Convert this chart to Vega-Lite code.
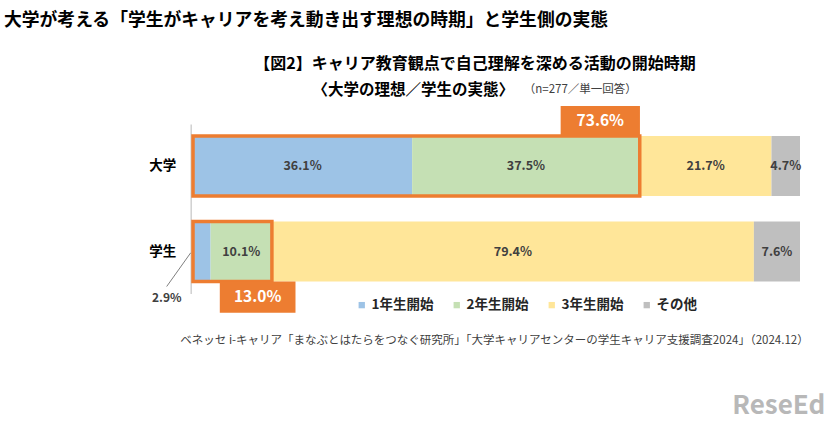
{
  "$schema": "https://vega.github.io/schema/vega-lite/v6.json",
  "width": 607,
  "height": 169.5,
  "autosize": {"type": "none"},
  "padding": {"left": 193, "top": 124, "right": 26, "bottom": 131.5},
  "background": "#ffffff",
  "config": {"font": "Noto Sans CJK JP", "view": {"stroke": null}},
  "title": {
    "text": "大学が考える「学生がキャリアを考え動き出す理想の時期」と学生側の実態",
    "anchor": "start",
    "frame": "group",
    "dx": -189,
    "offset": 26,
    "fontSize": 17.8,
    "fontWeight": "bold",
    "color": "#000000"
  },
  "datasets": {
    "main": [
      {"group": "大学", "cat": "1年生開始", "value": 36.1},
      {"group": "大学", "cat": "2年生開始", "value": 37.5},
      {"group": "大学", "cat": "3年生開始", "value": 21.7},
      {"group": "大学", "cat": "その他", "value": 4.7},
      {"group": "学生", "cat": "1年生開始", "value": 2.9},
      {"group": "学生", "cat": "2年生開始", "value": 10.1},
      {"group": "学生", "cat": "3年生開始", "value": 79.4},
      {"group": "学生", "cat": "その他", "value": 7.6}
    ],
    "hl": [
      {"group": "大学", "total": 73.6},
      {"group": "学生", "total": 13.0}
    ],
    "notes": [
      {"group": "大学", "key": "t1", "t": "【図2】キャリア教育観点で自己理解を深める活動の開始時期"},
      {"group": "大学", "key": "t2", "t": "〈大学の理想／学生の実態〉"},
      {"group": "大学", "key": "t3", "t": "（n=277／単一回答）"},
      {"group": "学生", "key": "src", "t": "ベネッセ i-キャリア「まなぶとはたらをつなぐ研究所」「大学キャリアセンターの学生キャリア支援調査2024」（2024.12）"},
      {"group": "学生", "key": "logo", "t": "ReseEd"},
      {"group": "学生", "key": "small", "t": "2.9%"}
    ]
  },
  "layer": [
    {
      "data": {"name": "main"},
      "mark": {"type": "bar"},
      "encoding": {
        "y": {
          "field": "group", "type": "nominal", "sort": ["大学", "学生"],
          "scale": {"domain": ["大学", "学生"], "paddingInner": 0.298, "paddingOuter": 0.14},
          "axis": {"title": null, "ticks": false, "tickSize": 0, "labelPadding": 15, "offset": 2.3, "domainColor": "#d0d0d0", "domainWidth": 1.5, "labelFontSize": 13.5, "labelFontWeight": "bold", "labelColor": "#000000", "grid": false}
        },
        "x": {"field": "value", "type": "quantitative", "stack": "zero", "scale": {"domain": [0, 100], "nice": false}, "axis": null},
        "color": {
          "field": "cat", "type": "nominal",
          "scale": {"domain": ["1年生開始", "2年生開始", "3年生開始", "その他"], "range": ["#9DC3E6", "#C5E0B4", "#FFE699", "#BFBFBF"]},
          "legend": {"orient": "none", "legendX": 162, "legendY": 174, "direction": "horizontal", "title": null, "symbolType": "square", "symbolSize": 40, "symbolStrokeWidth": 0, "labelFontSize": 13.5, "labelFontWeight": "bold", "labelColor": "#262626", "columnPadding": 16, "labelOffset": 3}
        },
        "order": {"field": "cat", "type": "ordinal", "sort": "ascending"}
      }
    },
    {
      "data": {"name": "main"},
      "transform": [
        {"stack": "value", "groupby": ["group"], "sort": [{"field": "cat", "order": "ascending"}], "as": ["v0", "v1"]},
        {"filter": "datum.value > 3.5"},
        {"calculate": "(datum.v0 + datum.v1) / 2", "as": "mid"},
        {"calculate": "format(datum.value, '.1f') + '%'", "as": "lbl"}
      ],
      "mark": {"type": "text", "fontSize": 12.5, "fontWeight": "bold", "color": "#404040"},
      "encoding": {
        "x": {"field": "mid", "type": "quantitative"},
        "y": {"field": "group", "type": "nominal"},
        "text": {"field": "lbl", "type": "nominal"}
      }
    },
    {
      "data": {"name": "hl"},
      "transform": [{"calculate": "0", "as": "zero"}],
      "mark": {"type": "bar", "fill": "transparent", "stroke": "#ED7D31", "strokeWidth": 3.5},
      "encoding": {
        "x": {"field": "zero", "type": "quantitative"},
        "x2": {"field": "total"},
        "y": {"field": "group", "type": "nominal"}
      }
    },
    {
      "data": {"name": "hl"},
      "transform": [
        {"filter": "datum.group === '大学'"},
        {"calculate": "datum.total - 6.5", "as": "bx"},
        {"calculate": "format(datum.total, '.1f') + '%'", "as": "lbl"}
      ],
      "layer": [
        {
          "mark": {"type": "point", "shape": "M-1,-0.378H1V0.378H-1Z", "size": 6288, "filled": true, "opacity": 1, "color": "#ED7D31", "strokeWidth": 0, "yOffset": -45},
          "encoding": {
            "x": {"field": "bx", "type": "quantitative"},
            "y": {"field": "group", "type": "nominal"}
          }
        },
        {
          "mark": {"type": "text", "fontSize": 15.5, "fontWeight": "bold", "color": "#ffffff", "dy": -45},
          "encoding": {
            "x": {"field": "bx", "type": "quantitative"},
            "y": {"field": "group", "type": "nominal"},
            "text": {"field": "lbl", "type": "nominal"}
          }
        }
      ]
    },
    {
      "data": {"name": "hl"},
      "transform": [
        {"filter": "datum.group === '学生'"},
        {"calculate": "datum.total - 2.35", "as": "bx"},
        {"calculate": "format(datum.total, '.1f') + '%'", "as": "lbl"}
      ],
      "layer": [
        {
          "mark": {"type": "point", "shape": "M-1,-0.413H1V0.413H-1Z", "size": 5730, "filled": true, "opacity": 1, "color": "#ED7D31", "strokeWidth": 0, "yOffset": 45.7},
          "encoding": {
            "x": {"field": "bx", "type": "quantitative"},
            "y": {"field": "group", "type": "nominal"}
          }
        },
        {
          "mark": {"type": "text", "fontSize": 15.5, "fontWeight": "bold", "color": "#ffffff", "dy": 45.7},
          "encoding": {
            "x": {"field": "bx", "type": "quantitative"},
            "y": {"field": "group", "type": "nominal"},
            "text": {"field": "lbl", "type": "nominal"}
          }
        }
      ]
    },
    {
      "data": {"name": "notes"},
      "transform": [{"filter": "datum.key === 'small'"}, {"calculate": "-2.36", "as": "px"}],
      "mark": {"type": "point", "shape": "M0.712,-1L-0.712,1", "size": 1136, "filled": false, "opacity": 1, "color": "#808080", "strokeWidth": 1, "yOffset": 18.15},
      "encoding": {
        "x": {"field": "px", "type": "quantitative"},
        "y": {"field": "group", "type": "nominal"}
      }
    },
    {
      "data": {"name": "notes"},
      "transform": [{"filter": "datum.key === 'small'"}, {"calculate": "-4.33", "as": "px"}],
      "mark": {"type": "text", "fontSize": 12, "fontWeight": "bold", "color": "#404040", "dy": 46},
      "encoding": {
        "x": {"field": "px", "type": "quantitative"},
        "y": {"field": "group", "type": "nominal"},
        "text": {"field": "t", "type": "nominal"}
      }
    },
    {
      "data": {"name": "notes"},
      "transform": [{"filter": "datum.key === 't1'"}, {"calculate": "46.46", "as": "px"}],
      "mark": {"type": "text", "fontSize": 16, "fontWeight": "bold", "color": "#000000", "dy": -102},
      "encoding": {
        "x": {"field": "px", "type": "quantitative"},
        "y": {"field": "group", "type": "nominal"},
        "text": {"field": "t", "type": "nominal"}
      }
    },
    {
      "data": {"name": "notes"},
      "transform": [{"filter": "datum.key === 't2'"}, {"calculate": "36.3", "as": "px"}],
      "mark": {"type": "text", "fontSize": 15.5, "fontWeight": "bold", "color": "#000000", "dy": -76},
      "encoding": {
        "x": {"field": "px", "type": "quantitative"},
        "y": {"field": "group", "type": "nominal"},
        "text": {"field": "t", "type": "nominal"}
      }
    },
    {
      "data": {"name": "notes"},
      "transform": [{"filter": "datum.key === 't3'"}, {"calculate": "63.8", "as": "px"}],
      "mark": {"type": "text", "fontSize": 11.5, "color": "#404040", "dy": -76},
      "encoding": {
        "x": {"field": "px", "type": "quantitative"},
        "y": {"field": "group", "type": "nominal"},
        "text": {"field": "t", "type": "nominal"}
      }
    },
    {
      "data": {"name": "notes"},
      "transform": [{"filter": "datum.key === 'src'"}, {"calculate": "49.67", "as": "px"}],
      "mark": {"type": "text", "fontSize": 11.5, "color": "#404040", "dy": 89},
      "encoding": {
        "x": {"field": "px", "type": "quantitative"},
        "y": {"field": "group", "type": "nominal"},
        "text": {"field": "t", "type": "nominal"}
      }
    },
    {
      "data": {"name": "notes"},
      "transform": [{"filter": "datum.key === 'logo'"}, {"calculate": "96.5", "as": "px"}],
      "mark": {"type": "text", "fontSize": 26, "fontWeight": "bold", "color": "#b8b8b8", "dy": 154},
      "encoding": {
        "x": {"field": "px", "type": "quantitative"},
        "y": {"field": "group", "type": "nominal"},
        "text": {"field": "t", "type": "nominal"}
      }
    }
  ]
}
